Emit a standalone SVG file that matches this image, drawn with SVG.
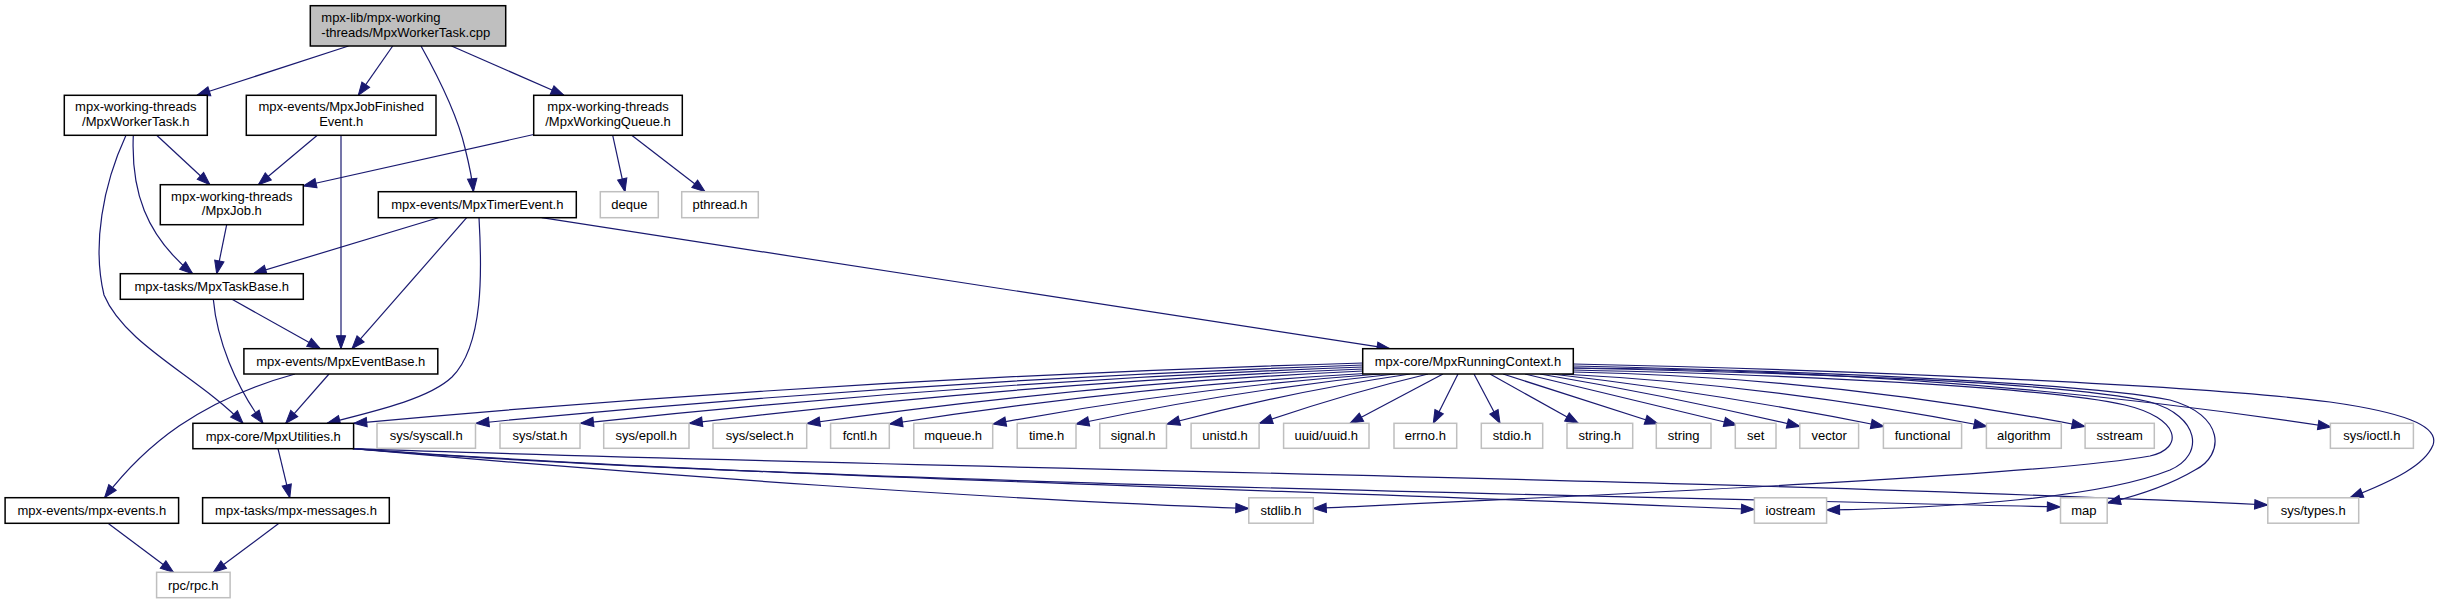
<svg xmlns="http://www.w3.org/2000/svg" width="2439" height="604" viewBox="0 0 2439 604">
<style>
.n rect{fill:#fff;stroke:#000;stroke-width:1.5}
.l rect{fill:#fff;stroke:#bfbfbf;stroke-width:1.5}
.r rect{fill:#bfbfbf;stroke:#000;stroke-width:1.5}
text{font-family:"Liberation Sans",Arial,Helvetica,sans-serif;font-size:13px;fill:#000;text-anchor:middle}
.r text{text-anchor:start}
#edges path{fill:none;stroke:#191970;stroke-width:1.2;marker-end:url(#a)}
</style>
<defs>
<marker id="a" markerUnits="userSpaceOnUse" markerWidth="16" markerHeight="12" viewBox="-1 -1 16 12" refX="13" refY="4.7" orient="auto">
<path d="M0,0 L13,4.7 L0,9.4 Z" fill="#191970" stroke="#191970" stroke-width="1"/>
</marker>
</defs>
<rect width="2439" height="604" fill="#fff"/>
<g id="edges">
<path d="M348.5,46 L197,95.3"/>
<path d="M392.7,46 L358.3,95.3"/>
<path d="M421,46 C440,80 458,118 465,148 C470,168 472.5,182 473.4,191.7"/>
<path d="M451.5,46 L564,95.3"/>
<path d="M156.7,135.3 L210,184.7"/>
<path d="M133.3,135.3 C131,190 145,235 192.7,273.7"/>
<path d="M126,135.3 C103,185 92,245 104,295 C125,345 200,378 243,423.3"/>
<path d="M317.3,135.3 L258.3,184.7"/>
<path d="M341,135.3 L341,348.7"/>
<path d="M533.7,134.5 L303.3,186"/>
<path d="M612.7,135.3 L625,191.7"/>
<path d="M631.7,135.3 L705,191.7"/>
<path d="M226.7,224.7 L216.7,273.7"/>
<path d="M438.3,217.7 L253.3,273.7"/>
<path d="M466.7,217.7 L352,348.7"/>
<path d="M479,217.7 C482,270 484,345 452,377 C430,398 380,410 327,423.3"/>
<path d="M541.7,217.7 L1390,348.7"/>
<path d="M232,299.3 L320.4,348.7"/>
<path d="M213.3,299.3 C217,340 235,385 263,423.3"/>
<path d="M329,374 L285.7,423.3"/>
<path d="M295,374 C200,400 145,445 104.6,497.7"/>
<path d="M278,448.7 L289.8,497.7"/>
<path d="M108,523.3 L173.5,572.3"/>
<path d="M279,523.3 L213.3,572.3"/>
<path d="M1363,363 Q858,377.3 353.8,423.3"/>
<path d="M1363,365 Q919.5,379.8 476,423.3"/>
<path d="M1363,367 Q971.8,381.3 580.5,423.3"/>
<path d="M1363,369 Q1026,382.6 689.3,423.3"/>
<path d="M1363,371 Q1085,384 807,423.5"/>
<path d="M1365,373.5 Q1127,387 889.5,424"/>
<path d="M1380,374 Q1186,388 993,424"/>
<path d="M1395,374 Q1235.5,390 1076,424"/>
<path d="M1410,374 Q1288,392 1166.8,424"/>
<path d="M1428,374 Q1344,394 1259.5,423.3"/>
<path d="M1443,374 L1350,423.3"/>
<path d="M1458,374 L1433.3,423.3"/>
<path d="M1474,374 L1500,423.3"/>
<path d="M1490,374 L1578.3,423.3"/>
<path d="M1503,374 L1658,423.8"/>
<path d="M1525,374 L1737,425"/>
<path d="M1540,374 Q1670,396 1800,426.5"/>
<path d="M1552,374 Q1717,393 1884,426.5"/>
<path d="M1562,374 Q1774.5,385 1987,426.5"/>
<path d="M1573.3,372 Q1829,377 2085,426.5"/>
<path d="M1573.3,368 Q1952,369.3 2331,427"/>
<path d="M1573.3,364 C1850,370 2200,385 2330,402 C2400,412 2440,425 2433,445 C2425,465 2395,480 2350,497.7"/>
<path d="M1573.3,366 C1850,372 2100,385 2170,400 C2225,415 2225,455 2195,470 C2170,485 2140,495 2107.5,503"/>
<path d="M1573.3,368 C1850,374 2080,385 2150,402 C2200,416 2205,455 2170,470 C2100,498 1950,508 1826.6,510"/>
<path d="M1573.3,370 C1850,376 2060,390 2125,405 C2180,418 2185,448 2150,456 C2050,475 1600,495 1313.3,508.5"/>
<path d="M352.8,448.7 C650,475 1000,500 1248.8,508.5"/>
<path d="M352.8,448.7 C700,475 1300,490 1754.4,509.5"/>
<path d="M352.8,448.7 C700,478 1500,494 2060.3,507"/>
<path d="M352.8,448.7 C900,468 1700,478 2267.7,505"/>
</g>
<g id="n-root" class="r"><rect x="310.3" y="5.7" width="195.4" height="40.3"/><text x="321.3" y="22">mpx-lib/mpx-working</text><text x="321.3" y="36.7">-threads/MpxWorkerTask.cpp</text></g>
<g id="n-workertask" class="n"><rect x="64.3" y="95.3" width="143" height="40"/><text x="135.8" y="111.2">mpx-working-threads</text><text x="135.8" y="125.8">/MpxWorkerTask.h</text></g>
<g id="n-jobfinished" class="n"><rect x="246.3" y="95.3" width="189.7" height="40"/><text x="341.2" y="111.2">mpx-events/MpxJobFinished</text><text x="341.2" y="125.8">Event.h</text></g>
<g id="n-workingqueue" class="n"><rect x="533.7" y="95.3" width="148.6" height="40"/><text x="608" y="111.2">mpx-working-threads</text><text x="608" y="125.8">/MpxWorkingQueue.h</text></g>
<g id="n-job" class="n"><rect x="160.3" y="184.7" width="143" height="40"/><text x="231.8" y="200.6">mpx-working-threads</text><text x="231.8" y="215.2">/MpxJob.h</text></g>
<g id="n-timerevent" class="n"><rect x="378.3" y="191.7" width="198" height="26"/><text x="477.3" y="209.2">mpx-events/MpxTimerEvent.h</text></g>
<g id="n-deque" class="l"><rect x="600.3" y="191.7" width="58" height="26"/><text x="629.3" y="209.2">deque</text></g>
<g id="n-pthread" class="l"><rect x="681.7" y="191.7" width="76.6" height="26"/><text x="720" y="209.2">pthread.h</text></g>
<g id="n-taskbase" class="n"><rect x="120.3" y="273.7" width="183" height="25.6"/><text x="211.8" y="291">mpx-tasks/MpxTaskBase.h</text></g>
<g id="n-eventbase" class="n"><rect x="243.9" y="348.7" width="193.9" height="25.3"/><text x="340.8" y="366">mpx-events/MpxEventBase.h</text></g>
<g id="n-runningcontext" class="n"><rect x="1362.7" y="348.7" width="210.6" height="25.3"/><text x="1468" y="366">mpx-core/MpxRunningContext.h</text></g>
<g id="n-utilities" class="n"><rect x="192.9" y="423.3" width="160.7" height="25.4"/><text x="273.2" y="440.5">mpx-core/MpxUtilities.h</text></g>
<g id="n-syscall" class="l"><rect x="377" y="423.3" width="98.5" height="25"/><text x="426.2" y="440.3">sys/syscall.h</text></g>
<g id="n-stat" class="l"><rect x="500" y="423.3" width="80" height="25"/><text x="540" y="440.3">sys/stat.h</text></g>
<g id="n-epoll" class="l"><rect x="603.7" y="423.3" width="85.3" height="25"/><text x="646.3" y="440.3">sys/epoll.h</text></g>
<g id="n-select" class="l"><rect x="713" y="423.3" width="93.7" height="25"/><text x="759.8" y="440.3">sys/select.h</text></g>
<g id="n-fcntl" class="l"><rect x="830.6" y="423.3" width="58.7" height="25"/><text x="860" y="440.3">fcntl.h</text></g>
<g id="n-mqueue" class="l"><rect x="913.8" y="423.3" width="78.9" height="25"/><text x="953.2" y="440.3">mqueue.h</text></g>
<g id="n-time" class="l"><rect x="1017.2" y="423.3" width="58.8" height="25"/><text x="1046.6" y="440.3">time.h</text></g>
<g id="n-signal" class="l"><rect x="1099.8" y="423.3" width="66.7" height="25"/><text x="1133.1" y="440.3">signal.h</text></g>
<g id="n-unistd" class="l"><rect x="1191.1" y="423.3" width="68" height="25"/><text x="1225.1" y="440.3">unistd.h</text></g>
<g id="n-uuid" class="l"><rect x="1283.6" y="423.3" width="85.4" height="25"/><text x="1326.3" y="440.3">uuid/uuid.h</text></g>
<g id="n-errno" class="l"><rect x="1394" y="423.3" width="62.7" height="25"/><text x="1425.3" y="440.3">errno.h</text></g>
<g id="n-stdio" class="l"><rect x="1481.3" y="423.3" width="61.4" height="25"/><text x="1512" y="440.3">stdio.h</text></g>
<g id="n-stringh" class="l"><rect x="1567" y="423.3" width="65.7" height="25"/><text x="1599.8" y="440.3">string.h</text></g>
<g id="n-string" class="l"><rect x="1656.3" y="423.3" width="54.7" height="25"/><text x="1683.6" y="440.3">string</text></g>
<g id="n-set" class="l"><rect x="1735.3" y="423.3" width="40.7" height="25"/><text x="1755.6" y="440.3">set</text></g>
<g id="n-vector" class="l"><rect x="1799.8" y="423.3" width="58.8" height="25"/><text x="1829.2" y="440.3">vector</text></g>
<g id="n-functional" class="l"><rect x="1883.4" y="423.3" width="78.2" height="25"/><text x="1922.5" y="440.3">functional</text></g>
<g id="n-algorithm" class="l"><rect x="1986.4" y="423.3" width="74.9" height="25"/><text x="2023.8" y="440.3">algorithm</text></g>
<g id="n-sstream" class="l"><rect x="2085.1" y="423.3" width="69.2" height="25"/><text x="2119.7" y="440.3">sstream</text></g>
<g id="n-ioctl" class="l"><rect x="2330.4" y="423.3" width="83" height="25"/><text x="2371.9" y="440.3">sys/ioctl.h</text></g>
<g id="n-mpxevents" class="n"><rect x="5.1" y="497.7" width="173.5" height="25.6"/><text x="91.8" y="515">mpx-events/mpx-events.h</text></g>
<g id="n-messages" class="n"><rect x="202.6" y="497.7" width="186.7" height="25.6"/><text x="296" y="515">mpx-tasks/mpx-messages.h</text></g>
<g id="n-stdlib" class="l"><rect x="1248.8" y="497.8" width="64.5" height="25.4"/><text x="1281" y="515">stdlib.h</text></g>
<g id="n-iostream" class="l"><rect x="1754.4" y="497.8" width="72.2" height="25.4"/><text x="1790.5" y="515">iostream</text></g>
<g id="n-map" class="l"><rect x="2060.5" y="497.8" width="46.7" height="25.4"/><text x="2083.8" y="515">map</text></g>
<g id="n-systypes" class="l"><rect x="2267.8" y="497.8" width="90.9" height="25.4"/><text x="2313.2" y="515">sys/types.h</text></g>
<g id="n-rpc" class="l"><rect x="156.6" y="572.3" width="73.5" height="25.4"/><text x="193.3" y="589.5">rpc/rpc.h</text></g>
</svg>
